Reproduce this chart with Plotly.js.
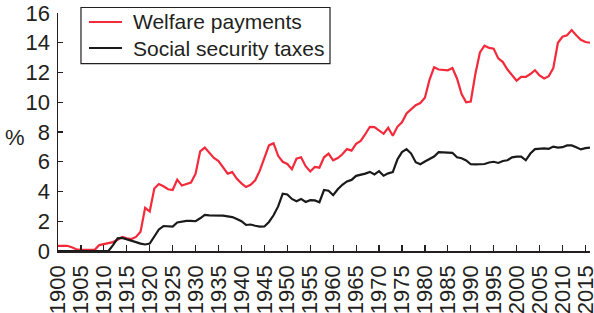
<!DOCTYPE html>
<html>
<head>
<meta charset="utf-8">
<script src="https://cdn.plot.ly/plotly-3.0.1.min.js"></script>
<style>html,body{margin:0;padding:0;background:#fff;}#chart{width:594px;height:313px;}</style>
</head>
<body>
<div id="chart"></div>
<script>
const startYear = 1900;
const welfarePayments = [
  0.35, 0.35, 0.35, 0.25, 0.12, 0.08, 0.08, 0.08, 0.08, 0.4,
  0.45, 0.5, 0.6, 0.75, 0.95, 0.85, 0.8, 0.95, 1.3, 2.9,
  2.65, 4.2, 4.5, 4.35, 4.15, 4.1, 4.8, 4.4, 4.5, 4.6,
  5.2, 6.7, 6.95, 6.6, 6.25, 6.05, 5.65, 5.2, 5.3, 4.85,
  4.55, 4.3, 4.45, 4.75, 5.4, 6.3, 7.1, 7.25, 6.4, 6.0,
  5.85, 5.5, 6.2, 6.3, 5.7, 5.35, 5.65, 5.6, 6.3, 6.55,
  6.1, 6.25, 6.5, 6.85, 6.75, 7.2, 7.4, 7.85, 8.35, 8.33,
  8.1, 7.88, 8.28, 7.75, 8.35, 8.65, 9.25, 9.5, 9.8, 9.95,
  10.3, 11.5, 12.35, 12.2, 12.2, 12.15, 12.3, 11.6, 10.55, 10.0,
  10.05, 11.9, 13.35, 13.8, 13.65, 13.6, 12.95, 12.7, 12.2, 11.8,
  11.45, 11.7, 11.7, 11.9, 12.15, 11.8, 11.6, 11.75, 12.3, 14.0,
  14.4, 14.5, 14.85, 14.5, 14.2, 14.05, 14.0
];
const socialSecurityTaxes = [
  0, 0, 0, 0, 0, 0, 0, 0, 0, 0,
  0, 0, 0.4, 0.85, 0.88, 0.8, 0.7, 0.6, 0.5, 0.44,
  0.5, 1.0, 1.45, 1.68, 1.65, 1.64, 1.92, 1.98, 2.03, 2.02,
  2.0, 2.2, 2.43, 2.4, 2.4, 2.39, 2.38, 2.33, 2.28, 2.15,
  2.0, 1.75, 1.78, 1.7, 1.64, 1.65, 1.95, 2.4, 3.0, 3.85,
  3.8, 3.5, 3.35, 3.5, 3.3, 3.42, 3.4, 3.28, 4.1, 4.05,
  3.75, 4.15, 4.45, 4.68, 4.78, 5.05, 5.12, 5.2, 5.32, 5.15,
  5.37, 5.06, 5.22, 5.3, 6.15, 6.65, 6.85, 6.55, 5.97, 5.83,
  6.02, 6.2, 6.35, 6.64, 6.62, 6.58, 6.6, 6.3, 6.24, 6.09,
  5.83, 5.82, 5.82, 5.85, 5.95, 6.0, 5.92, 6.05, 6.1, 6.3,
  6.35, 6.35, 6.1, 6.55, 6.85, 6.9, 6.9, 6.87, 7.02, 6.95,
  6.98, 7.1, 7.1, 6.98, 6.83, 6.92, 6.95
];
const years = welfarePayments.map((_, i) => startYear + i);
const seriesNames = ['Welfare payments', 'Social security taxes'];
const seriesColors = ['#f42a3b', '#1a1a1a'];
const xTickVals = [];
for (let y = 1900; y <= 2015; y += 5) xTickVals.push(y);
const yTickVals = [0, 2, 4, 6, 8, 10, 12, 14, 16];

const family = '"Liberation Sans", Arial, Helvetica, sans-serif';
const ink = '#231f20';
const font = {family: family, size: 21, color: ink};
const tickFont = {family: family, size: 22, color: ink};

const traces = [
  {x: years, y: welfarePayments, name: seriesNames[0], type: 'scatter', mode: 'lines',
   line: {color: seriesColors[0], width: 2.2}},
  {x: years, y: socialSecurityTaxes, name: seriesNames[1], type: 'scatter', mode: 'lines',
   line: {color: seriesColors[1], width: 2.2}}
];

// Legend drawn as a framed box (paper coordinates)
const legendBox = {x0: 0.0432, x1: 0.5113, y0: 0.787, y1: 1.0231};
const legendRows = [0.9622, 0.8529];
const shapes = [
  {type: 'rect', xref: 'paper', yref: 'paper', x0: legendBox.x0, x1: legendBox.x1,
   y0: legendBox.y0, y1: legendBox.y1, line: {color: ink, width: 1.2}, fillcolor: '#fff', layer: 'above'}
];
const annotations = [{text: '%', xref: 'paper', yref: 'paper', x: -0.081, y: 0.477,
  showarrow: false, font: tickFont, xanchor: 'center', yanchor: 'middle'}];
seriesNames.forEach((name, i) => {
  shapes.push({type: 'line', xref: 'paper', yref: 'paper', x0: 0.0583, x1: 0.1203,
    y0: legendRows[i], y1: legendRows[i], line: {color: seriesColors[i], width: 2.2}, layer: 'above'});
  annotations.push({text: name, xref: 'paper', yref: 'paper', x: 0.1375, y: legendRows[i],
    xanchor: 'left', yanchor: 'middle', showarrow: false, font: font});
});

const layout = {
  width: 594, height: 313,
  margin: {l: 58, r: 4, t: 13, b: 62, pad: 0},
  paper_bgcolor: '#fff', plot_bgcolor: '#fff',
  font: font,
  showlegend: false,
  xaxis: {range: [1900, 2016], tickvals: xTickVals, ticktext: xTickVals.map(String),
    tickangle: -90, ticks: 'inside', ticklen: 6, tickwidth: 1.2, tickcolor: ink,
    showline: true, linecolor: ink, linewidth: 1.5, showgrid: false, zeroline: false,
    automargin: false, tickfont: tickFont, ticklabeloverflow: 'allow', ticklabelstandoff: 4},
  yaxis: {range: [0, 16], tickvals: yTickVals, ticks: 'inside', ticklen: 5, tickwidth: 1.2,
    tickcolor: ink, showline: true, linecolor: ink, linewidth: 1.5,
    showgrid: false, zeroline: false, automargin: false, tickfont: tickFont,
    ticklabeloverflow: 'allow', ticklabelstandoff: 2},
  shapes: shapes,
  annotations: annotations
};

Plotly.newPlot('chart', traces, layout, {staticPlot: true, displayModeBar: false});
</script>
</body>
</html>
